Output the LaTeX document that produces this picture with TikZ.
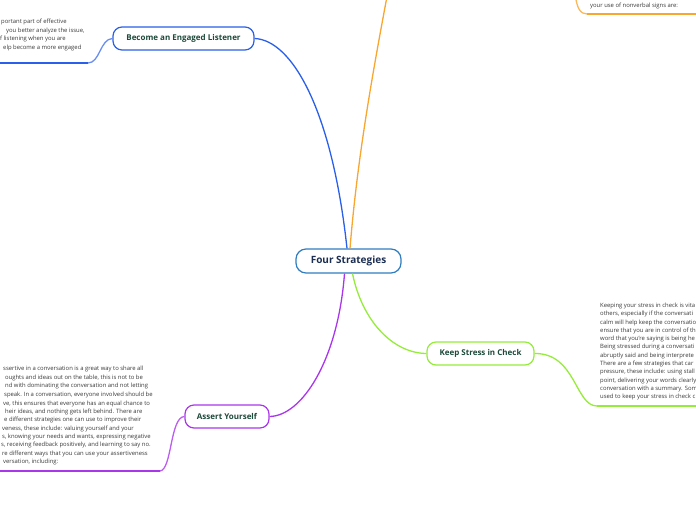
\documentclass[tikz,border=0pt]{standalone}
\usepackage{fontspec}
\setmainfont{Open Sans}
\definecolor{hubC}{HTML}{2F7DBF}
\definecolor{hubT}{HTML}{1C2F52}
\definecolor{blueC}{HTML}{2A5FEA}
\definecolor{orangeC}{HTML}{F8A630}
\definecolor{greenC}{HTML}{96EC3A}
\definecolor{purpC}{HTML}{AA36EC}
\definecolor{topicT}{HTML}{1E4A3B}
\definecolor{bodyT}{HTML}{3A3A3A}
\tikzset{
  hub/.style={draw=hubC, line width=1.2pt, rounded corners=10pt, fill=white, minimum height=24pt, text=hubT, font=\fontsize{10}{12}\selectfont\bfseries, inner sep=0pt},
  topic/.style={line width=1.2pt, rounded corners=9pt, fill=white, minimum height=23pt, text=topicT, font=\fontsize{8}{10}\selectfont\bfseries, inner sep=0pt},
  conn/.style={line width=1.3pt},
  uline/.style={line width=1.9pt},
  body/.style={anchor=base west, inner sep=0pt, text=bodyT, font=\fontsize{5.9}{7}\selectfont}
}
\begin{document}
\begin{tikzpicture}[x=1pt,y=-1pt]
\useasboundingbox (0,0) rectangle (696,520);
\node[hub, minimum width=105pt] (c) at (348.5,261) {Four Strategies};
\node[topic, draw=blueC, minimum width=141pt] (b) at (183.5,38.5) {Become an Engaged Listener};
\node[topic, draw=greenC, minimum width=107pt] (k) at (480.5,353.5) {Keep Stress in Check};
\node[topic, draw=purpC, minimum width=84pt] (a) at (227,416.5) {Assert Yourself};
% main connectors
\coordinate (oTop) at (392,-30);
\draw[conn, orangeC] ([xshift=1.5pt]c.north) .. controls (358,150) and (375,60) .. (oTop);
\draw[conn, blueC] ([xshift=-1.5pt]c.north) .. controls (332,110) and (292,40) .. (b.east);
\draw[conn, greenC] ([xshift=4pt]c.south) .. controls (362,320) and (392,353) .. (k.west);
\draw[conn, purpC] ([xshift=-4pt]c.south) .. controls (338,360) and (302,416) .. (a.east);
% underlines of notes
\coordinate (bu) at (88,63);
\coordinate (bu2) at (0,63);
\draw[conn, blueC!70] (b.west) .. controls (100,39) and (100,63) .. (bu);
\draw[uline, blueC] (bu) -- (bu2);
\coordinate (ku) at (597,406);
\coordinate (ku2) at (696,406);
\draw[conn, greenC] (k.east) .. controls (576,353) and (575,406) .. (ku);
\draw[uline, greenC] (ku) -- (ku2);
\coordinate (au) at (160,471);
\coordinate (au2) at (0,471);
\draw[conn, purpC!80] (a.west) .. controls (170,417) and (172,470) .. (au);
\draw[uline, purpC] (au) -- (au2);
\coordinate (ou0) at (575,-6);
\coordinate (ou) at (587,14);
\coordinate (ou2) at (696,14);
\draw[conn, orangeC!80] (ou0) .. controls (577,8) and (580,14) .. (ou);
\draw[uline, orangeC] (ou) -- (ou2);
% notes
\node[body] (o1) at (590,7.5) {your use of nonverbal signs are:};
\node[body] (b1) at (1,23.5) {portant part of effective};
\node[body] (b2) at (6,32.5) {you better analyze the issue,};
\node[body] (b3) at (0,40.5) {f listening when you are};
\node[body] (b4) at (3,49.5) {elp become a more engaged};
\node[body] (k1) at (600,307.5) {Keeping your stress in check is vita};
\node[body] (k2) at (600,315.8) {others, especially if the conversati};
\node[body] (k3) at (600,324) {calm will help keep the conversatio};
\node[body] (k4) at (600,332.3) {ensure that you are in control of th};
\node[body] (k5) at (600,340.6) {word that you're saying is being he};
\node[body] (k6) at (600,348.9) {Being stressed during a conversati};
\node[body] (k7) at (600,357.2) {abruptly said and being interprete};
\node[body] (k8) at (600,365.5) {There are a few strategies that car};
\node[body] (k9) at (600,373.8) {pressure, these include: using stall};
\node[body] (k10) at (600,382.1) {point, delivering your words clearly};
\node[body] (k11) at (600,390.4) {conversation with a summary. Som};
\node[body] (k12) at (600,398.7) {used to keep your stress in check c};
\node[body] (a1) at (3,370.5) {ssertive in a conversation is a great way to share all};
\node[body] (a2) at (5,379) {oughts and ideas out on the table, this is not to be};
\node[body] (a3) at (5,387.5) {nd with dominating the conversation and not letting};
\node[body] (a4) at (4,396.5) {speak. In a conversation, everyone involved should be};
\node[body] (a5) at (3,405) {ve, this ensures that everyone has an equal chance to};
\node[body] (a6) at (5,413.5) {heir ideas, and nothing gets left behind. There are};
\node[body] (a7) at (4,421.8) {e different strategies one can use to improve their};
\node[body] (a8) at (2,430.1) {veness, these include: valuing yourself and your};
\node[body] (a9) at (2,438.4) {s, knowing your needs and wants, expressing negative};
\node[body] (a10) at (1,446.7) {s, receiving feedback positively, and learning to say no.};
\node[body] (a11) at (2,455) {re different ways that you can use your assertiveness};
\node[body] (a12) at (3,463.3) {versation, including:};
\end{tikzpicture}
\end{document}
